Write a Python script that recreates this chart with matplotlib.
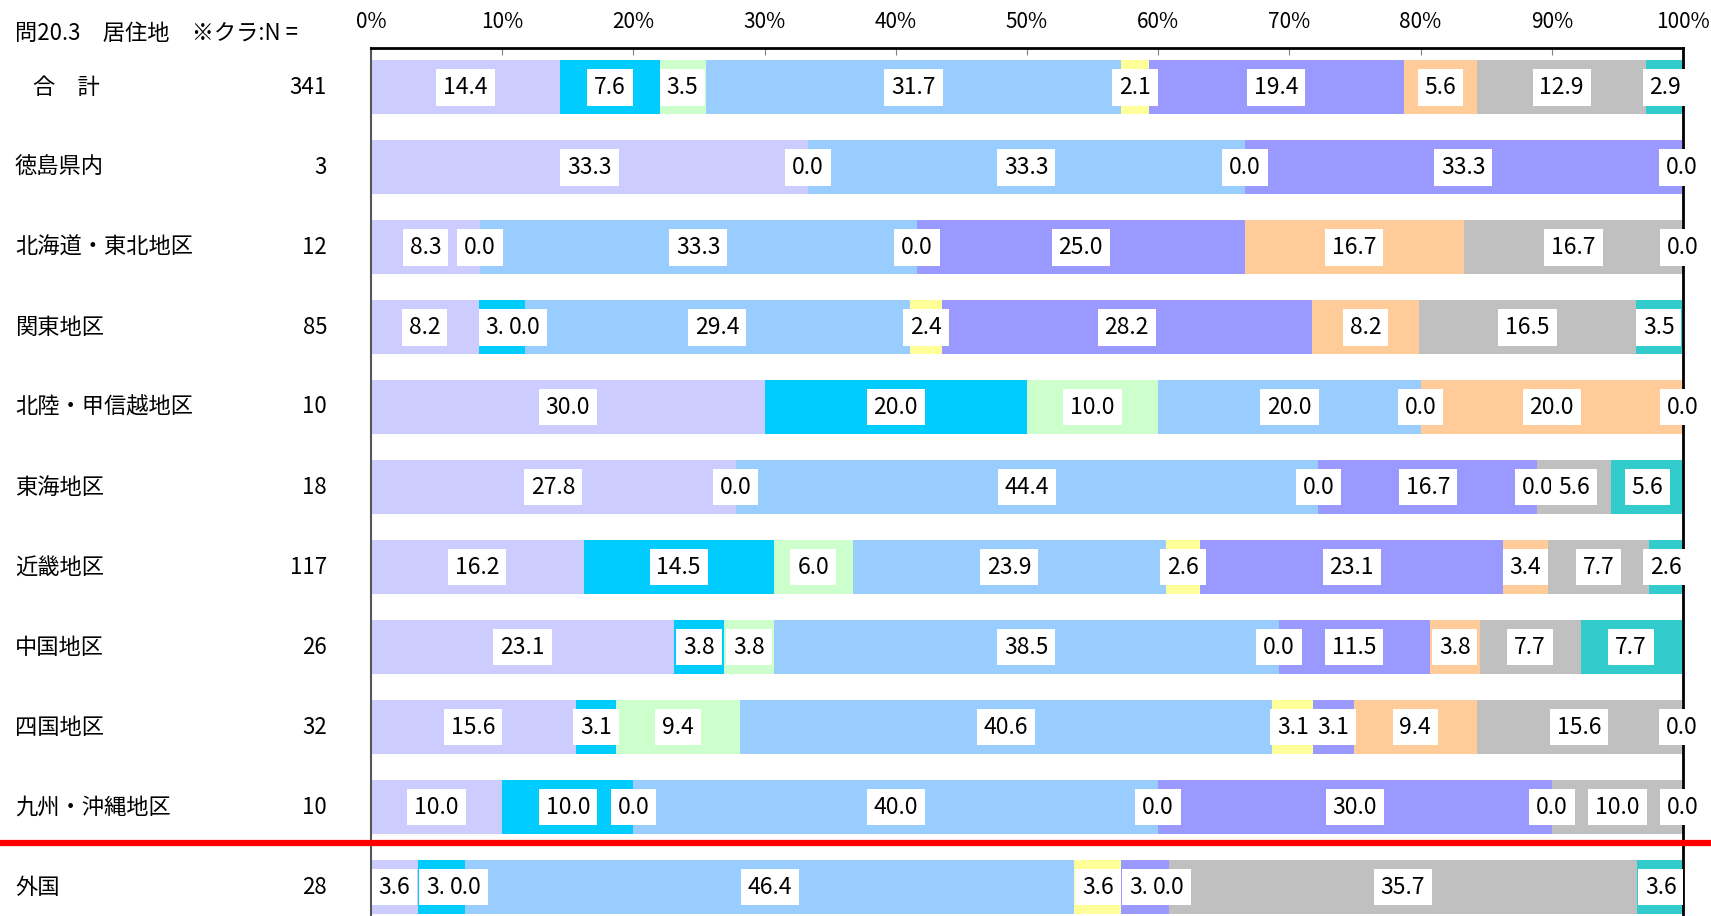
import matplotlib
matplotlib.use('Agg')
from matplotlib import pyplot as plt
from matplotlib.lines import Line2D
import numpy as np

plt.rcParams['font.family'] = ['Liberation Sans Narrow', 'Noto Sans CJK JP', 'DejaVu Sans']

# rows (top to bottom) and their N
regions = ['合　計', '徳島県内', '北海道・東北地区', '関東地区', '北陸・甲信越地区', '東海地区',
           '近畿地区', '中国地区', '四国地区', '九州・沖縄地区', '外国']
n_values = [341, 3, 12, 85, 10, 18, 117, 26, 32, 10, 28]

# percentages per row, 9 answer categories each
total     = [14.4, 7.6, 3.5, 31.7, 2.1, 19.4, 5.6, 12.9, 2.9]
tokushima = [33.3, 0.0, 0.0, 33.3, 0.0, 33.3, 0.0, 0.0, 0.0]
hokkaido  = [8.3, 0.0, 0.0, 33.3, 0.0, 25.0, 16.7, 16.7, 0.0]
kanto     = [8.2, 3.5, 0.0, 29.4, 2.4, 28.2, 8.2, 16.5, 3.5]
hokuriku  = [30.0, 20.0, 10.0, 20.0, 0.0, 0.0, 20.0, 0.0, 0.0]
tokai     = [27.8, 0.0, 0.0, 44.4, 0.0, 16.7, 0.0, 5.6, 5.6]
kinki     = [16.2, 14.5, 6.0, 23.9, 2.6, 23.1, 3.4, 7.7, 2.6]
chugoku   = [23.1, 3.8, 3.8, 38.5, 0.0, 11.5, 3.8, 7.7, 7.7]
shikoku   = [15.6, 3.1, 9.4, 40.6, 3.1, 3.1, 9.4, 15.6, 0.0]
kyushu    = [10.0, 10.0, 0.0, 40.0, 0.0, 30.0, 0.0, 10.0, 0.0]
gaikoku   = [3.6, 3.6, 0.0, 46.4, 3.6, 3.6, 0.0, 35.7, 3.6]

rows = [total, tokushima, hokkaido, kanto, hokuriku, tokai, kinki, chugoku, shikoku, kyushu, gaikoku]
colors = ['#CCCCFF', '#00CCFF', '#CCFFCC', '#99CCFF', '#FFFF99',
          '#9999FF', '#FFCC99', '#C0C0C0', '#33CCCC']

W, H = 1711, 916
fig = plt.figure(figsize=(W / 100, H / 100), dpi=100)
ax = fig.add_axes([371 / W, 0, (1683 - 371) / W, 1 - 48 / H])

data = np.array(rows)
y = np.arange(len(regions))
left = np.zeros(len(regions))
for k in range(data.shape[1]):
    ax.barh(y, data[:, k], left=left, height=0.68, color=colors[k], edgecolor='none')
    # value labels in white boxes; overlapping ones cover each other like the original
    for i in range(len(regions)):
        ax.text(left[i] + data[i, k] / 2, y[i], f'{data[i, k]:.1f}', ha='center', va='center',
                fontsize=16.5, color='black',
                bbox=dict(boxstyle='square,pad=0.3', facecolor='white', edgecolor='none'))
    left += data[:, k]

ax.set_xlim(0, 100)
ax.set_ylim((H - 87) / 80, -48 / 80 + 0.11)
ax.set_yticks([])
ax.xaxis.tick_top()
ax.set_xticks(np.arange(0, 101, 10))
ax.set_xticklabels([f'{v}%' for v in range(0, 101, 10)], fontsize=15)
ax.tick_params(axis='x', direction='in', length=5, color='#808080', pad=11)
ax.spines['bottom'].set_visible(False)
ax.spines['top'].set_linewidth(2)
ax.spines['right'].set_linewidth(2)
ax.spines['left'].set_color('#555555')
ax.spines['left'].set_linewidth(1.5)

# left side labels
for i, (name, n) in enumerate(zip(regions, n_values)):
    yf = 1 - (87 + 80 * i) / H
    xname = 33 / W if name == '合　計' else 15 / W
    fig.text(xname, yf, name, fontsize=16, ha='left', va='center')
    fig.text(327 / W, yf, str(n), fontsize=16, ha='right', va='center')

fig.text(15 / W, 1 - 33 / H, '問20.3　居住地　※クラ:N =', fontsize=16, ha='left', va='center')

# red divider above 外国
fig.add_artist(Line2D([0, 1], [1 - 843 / H, 1 - 843 / H], color='red', linewidth=4.5,
                      transform=fig.transFigure))

fig.savefig('out.png', dpi=100)
